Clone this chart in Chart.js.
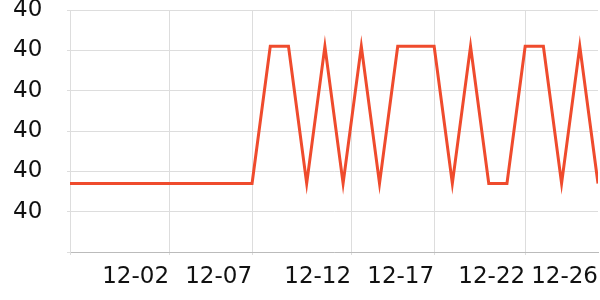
<!DOCTYPE html>
<html>
<head>
<meta charset="utf-8">
<script src="https://cdn.jsdelivr.net/npm/chart.js@4"></script>
<style>
  html, body { margin: 0; padding: 0; background: #fff; }
  #wrap { width: 600px; height: 300px; }
</style>
</head>
<body>
<div id="wrap"><canvas id="chart"></canvas></div>
<script>
  // one point per day, 11-27 .. 12-26
  const values = [39.87, 39.87, 39.87, 39.87, 39.87, 39.87, 39.87, 39.87, 39.87, 39.87,
                  39.87, 40.21, 40.21, 39.87, 40.21, 39.87, 40.21, 39.87, 40.21, 40.21,
                  40.21, 39.87, 40.21, 39.87, 39.87, 40.21, 40.21, 39.87, 40.21, 39.87];
  const xTickPos = [0, 5.44, 10, 15.44, 20, 25, 29];
  const xTickLabels = ['', '12-02', '12-07', '12-12', '12-17', '12-22', '12-26'];
  const yMin = 39.7, yMax = 40.3, yStep = 0.1;

  const points = values.map((v, i) => ({ x: i, y: v }));

  new Chart(document.getElementById('chart'), {
    type: 'line',
    data: {
      datasets: [{
        data: points,
        borderColor: '#ef4b2d',
        borderWidth: 3,
        pointRadius: 0,
        tension: 0,
        fill: false
      }]
    },
    options: {
      responsive: true,
      maintainAspectRatio: false,
      animation: false,
      layout: { padding: { left: 13, right: 2, top: 10, bottom: 0 } },
      plugins: { legend: { display: false }, tooltip: { enabled: false } },
      scales: {
        x: {
          type: 'linear',
          min: 0,
          max: values.length - 1,
          afterBuildTicks: s => { s.ticks = xTickPos.map(v => ({ value: v })); },
          afterFit: s => { s.height = 48; s.paddingRight = 0; s.paddingLeft = 0; },
          ticks: {
            align: 'end',
            autoSkip: false,
            maxRotation: 0,
            padding: 8,
            color: '#111',
            font: { family: 'DejaVu Sans', size: 23 },
            callback: (v, i) => xTickLabels[i]
          },
          grid: {
            color: ctx => ctx.index === xTickPos.length - 1 ? 'rgba(0,0,0,0)' : '#dddddd',
            tickLength: 3
          },
          border: { color: '#bbbbbb', width: 1 }
        },
        y: {
          min: yMin,
          max: yMax,
          afterFit: s => { s.width = 57; s.paddingTop = 0; s.paddingBottom = 0; },
          ticks: {
            stepSize: yStep,
            crossAlign: 'far',
            padding: 0,
            color: '#111',
            font: { family: 'DejaVu Sans', size: 23 },
            callback: v => Math.abs(v - yMin) < 1e-6 ? '' : Math.round(v)
          },
          grid: { color: '#dddddd', tickLength: 3 },
          border: { color: '#dddddd' }
        }
      }
    }
  });
</script>
</body>
</html>
